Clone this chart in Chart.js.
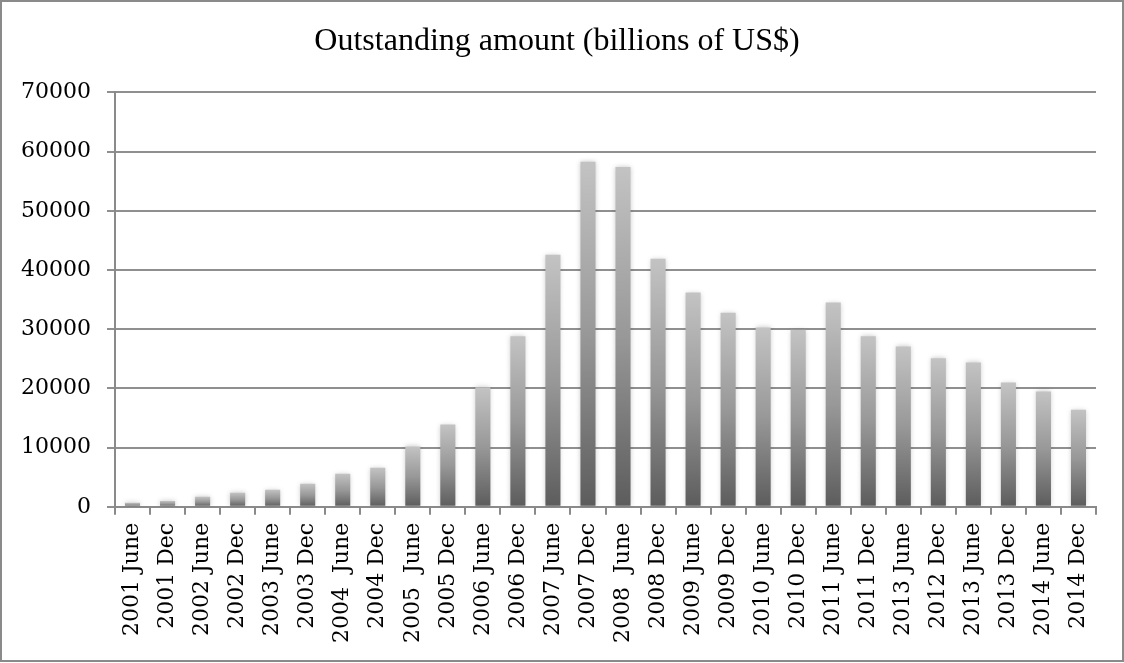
<!DOCTYPE html>
<html>
<head>
<meta charset="utf-8">
<script src="https://cdn.jsdelivr.net/npm/chart.js@4/dist/chart.umd.min.js"></script>
<style>
  html, body { margin: 0; padding: 0; background: #fff; }
  #wrap { width: 1124px; height: 663px; position: relative; }
</style>
</head>
<body>
<div id="wrap"><canvas id="myChart" width="1124" height="663"></canvas></div>
<script>
var periods = ['2001 June', '2001 Dec', '2002 June', '2002 Dec', '2003 June', '2003 Dec',
  '2004  June', '2004 Dec', '2005  June', '2005 Dec', '2006 June', '2006 Dec',
  '2007 June', '2007 Dec', '2008  June', '2008 Dec', '2009 June', '2009 Dec',
  '2010 June', '2010 Dec', '2011 June', '2011 Dec', '2013 June', '2012 Dec',
  '2013 June', '2013 Dec', '2014 June', '2014 Dec'];
var outstanding = [700, 1000, 1700, 2400, 2900, 3900, 5600, 6600, 10200, 13900,
  20200, 28800, 42600, 58300, 57400, 41900, 36200, 32800, 30300, 29900,
  34500, 28800, 27100, 25100, 24400, 21000, 19500, 16400];
var yTicks = [0, 10000, 20000, 30000, 40000, 50000, 60000, 70000];

// per-bar gradient, light on top, dark at the base
function barGradient(context) {
  var chart = context.chart;
  if (!chart.chartArea || context.dataIndex === undefined) return '#999';
  var y = chart.scales.y;
  var top = y.getPixelForValue(context.raw);
  var base = y.getPixelForValue(0);
  if (!isFinite(top) || base - top < 1) return '#999';
  var g = chart.ctx.createLinearGradient(0, top, 0, base);
  g.addColorStop(0, '#c3c3c3');
  g.addColorStop(0.5, '#989898');
  g.addColorStop(1, '#5c5c5c');
  return g;
}

var frameBorder = {
  id: 'frameBorder',
  beforeDatasetsDraw: function(chart) {
    var c = chart.ctx;
    c.save();
    c.shadowColor = 'rgba(0,0,0,0.22)';
    c.shadowBlur = 5;
  },
  afterDatasetsDraw: function(chart) {
    chart.ctx.restore();
  },
  afterDraw: function(chart) {
    var c = chart.ctx;
    c.save();
    c.strokeStyle = '#8a8a8a';
    c.lineWidth = 2;
    c.strokeRect(1, 1, chart.width - 2, chart.height - 3);
    c.restore();
  }
};

var ctx = document.getElementById('myChart');
var myChart = new Chart(ctx, {
  type: 'bar',
  data: {
    labels: periods,
    datasets: [{
      label: 'Outstanding amount (billions of US$)',
      data: outstanding,
      backgroundColor: barGradient,
      borderWidth: 0,
      barPercentage: 0.43,
      categoryPercentage: 1
    }]
  },
  options: {
    responsive: false,
    animation: false,
    layout: { padding: { left: 18, right: 28, top: 0, bottom: 12 } },
    plugins: {
      legend: { display: false },
      tooltip: { enabled: false },
      title: {
        display: true,
        text: 'Outstanding amount (billions of US$)',
        color: '#000',
        font: { family: '"Liberation Serif", "Times New Roman", serif', size: 32, weight: 'normal', lineHeight: 1.2 },
        padding: { top: 22, bottom: 32 }
      }
    },
    scales: {
      x: {
        grid: { display: true, drawOnChartArea: false, drawTicks: true, tickLength: 8, color: '#8a8a8a', lineWidth: 2, offset: true },
        border: { color: '#8a8a8a', width: 2 },
        ticks: {
          color: '#000',
          autoSkip: false,
          maxRotation: 90,
          minRotation: 90,
          padding: 8,
          font: { family: '"DejaVu Serif", serif', size: 22 }
        }
      },
      y: {
        min: 0,
        max: 70000,
        afterBuildTicks: function(scale) {
          scale.ticks = yTicks.map(function(v) { return { value: v }; });
        },
        afterFit: function(scale) {
          scale.width = 97;
        },
        grid: { color: '#8f8f8f', lineWidth: 2, tickLength: 8 },
        border: { color: '#8a8a8a', width: 2 },
        ticks: {
          color: '#000',
          padding: 16,
          font: { family: '"DejaVu Serif", serif', size: 22 },
          callback: function(v) { return String(v); }
        }
      }
    }
  },
  plugins: [frameBorder]
});
</script>
</body>
</html>
